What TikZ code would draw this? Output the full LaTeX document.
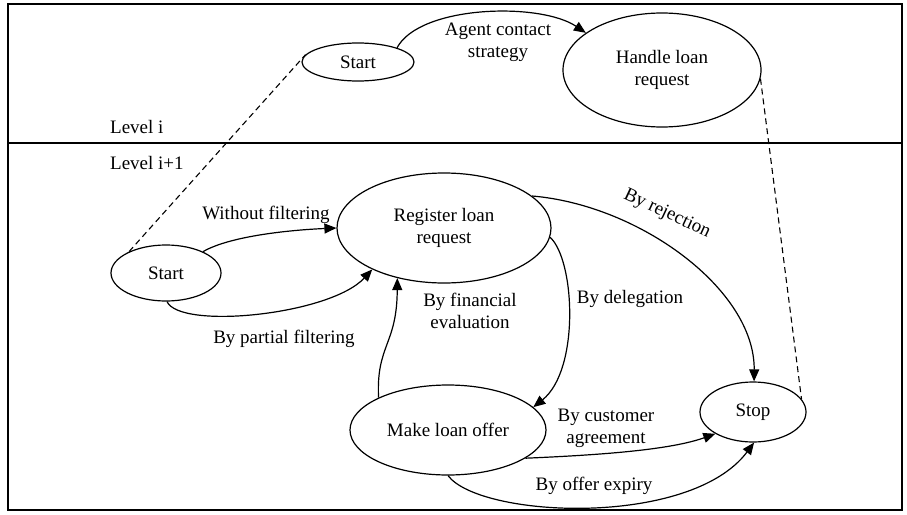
\documentclass[tikz,border=0pt]{standalone}
\usepackage{fontspec}
\setmainfont{Liberation Serif}
\usetikzlibrary{shapes.geometric,arrows.meta}
\begin{document}
\begin{tikzpicture}[x=1pt,y=1pt,
  st/.style={draw, ellipse, line width=1.2pt, inner sep=0pt, align=center, font=\fontsize{19}{22}\selectfont},
  lbl/.style={inner sep=0pt, align=center, font=\fontsize{19}{22}\selectfont},
  tr/.style={line width=1.2pt, -{Triangle[length=12pt,width=10pt]}},
  dsh/.style={line width=1.1pt, dash pattern=on 6pt off 4pt}]
\useasboundingbox (0,0) rectangle (907,-514);
\draw[line width=1.5pt] (8,-4) rectangle (902,-510);
\draw[line width=1.2pt] (8,-143) -- (902,-143);
% nodes
\node[st, minimum width=112pt, minimum height=38pt] (s1) at (358,-62) {Start};
\node[st, minimum width=198pt, minimum height=114pt] (h) at (662,-70) {Handle loan\\request};
\node[st, minimum width=214pt, minimum height=110pt] (reg) at (444,-228) {Register loan\\request};
\node[st, minimum width=110pt, minimum height=56pt] (s2) at (166,-273) {Start};
\node[st, minimum width=196pt, minimum height=90pt] (mk) at (448,-430) {Make loan offer};
\node[st, minimum width=106pt, minimum height=60pt] (stop) at (753,-412) {Stop};
% labels
\node[lbl] (la) at (498,-42) {Agent contact\\strategy};
\node[lbl, anchor=west] (li) at (110,-127) {Level i};
\node[lbl, anchor=west] (li1) at (110,-163) {Level i+1};
\node[lbl] (lw) at (266,-215) {Without filtering};
\node[lbl] (lp) at (284,-339) {By partial filtering};
\node[lbl] (lf) at (470,-311) {By financial\\evaluation};
\node[lbl] (ld) at (630,-299) {By delegation};
\node[lbl, rotate=-25] (lr) at (667,-214) {By rejection};
\node[lbl] (lc) at (606,-428) {By customer\\agreement};
\node[lbl] (lo) at (594,-486) {By offer expiry};
% connectors
\draw[dsh] (s2.150) -- (s1.172);
\draw[dsh] (h.-5) -- (stop.15);
\draw[tr] (s1.20) .. controls (420,-5) and (540,-2) .. (h.154);
\draw[tr] (s2.30) .. controls (230,-236) and (290,-230) .. (reg.180);
\draw[tr] (s2.-88) .. controls (180,-330) and (330,-315) .. (reg.210);
\draw[tr] (mk.155) .. controls (376,-345) and (397,-345) .. (reg.227);
\draw[tr] (reg.-5) .. controls (575,-260) and (580,-370) .. (mk.15);
\draw[tr] (reg.20) .. controls (640,-205) and (755,-290) .. (stop.88);
\draw[tr] (mk.-20) .. controls (600,-455) and (670,-450) .. (stop.210);
\draw[tr] (mk.-90) .. controls (480,-518) and (690,-528) .. (stop.-88);
\end{tikzpicture}
\end{document}
